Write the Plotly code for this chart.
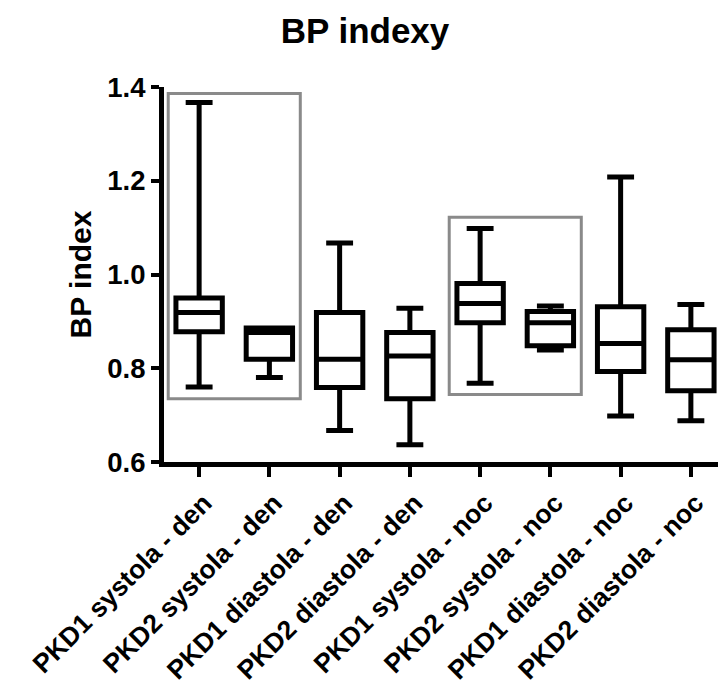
import plotly.graph_objects as go

categories = ["PKD1 systola - den", "PKD2 systola - den", "PKD1 diastola - den",
              "PKD2 diastola - den", "PKD1 systola - noc", "PKD2 systola - noc",
              "PKD1 diastola - noc", "PKD2 diastola - noc"]
minimum = [0.76, 0.78, 0.667, 0.637, 0.768, 0.839, 0.698, 0.688]
q1 = [0.878, 0.819, 0.759, 0.735, 0.897, 0.848, 0.793, 0.752]
median = [0.919, 0.876, 0.819, 0.826, 0.938, 0.897, 0.853, 0.818]
q3 = [0.950, 0.886, 0.919, 0.876, 0.981, 0.921, 0.931, 0.882]
maximum = [1.367, 0.886, 1.067, 0.928, 1.098, 0.933, 1.208, 0.936]

# highlighted groups: (first category index, last category index, y bottom, y top)
highlights = [(0, 1, 0.735, 1.386), (4, 5, 0.744, 1.122)]

y_ticks = [0.6, 0.8, 1.0, 1.2, 1.4]
y_tick_labels = ["0.6", "0.8", "1.0", "1.2", "1.4"]

FONT = "Liberation Sans, Arial, sans-serif"

# page body has an 8px default margin; figure is sized to fit the window
W, H = 718, 683

fig = go.Figure()
fig.add_trace(go.Box(
    x=categories, q1=q1, median=median, q3=q3,
    lowerfence=minimum, upperfence=maximum,
    width=0.66, whiskerwidth=0.58,
    line=dict(color="black", width=5),
    fillcolor="white", boxpoints=False, hoverinfo="skip",
))

pad = 0.44
for i0, i1, yb, yt in highlights:
    fig.add_shape(type="rect", xref="x", yref="y",
                  x0=i0 - pad, x1=i1 + pad, y0=yb, y1=yt,
                  line=dict(color="#8a8a8a", width=3), layer="below")

fig.update_layout(
    width=W, height=H,
    margin=dict(l=156, r=0, t=79, b=229, autoexpand=False),
    plot_bgcolor="white", paper_bgcolor="white",
    showlegend=False,
    title=dict(text="BP indexy", x=357 / W, xref="container", xanchor="center",
               y=1 - 23 / H, yref="container", yanchor="middle",
               font=dict(family=FONT, size=35, color="black", weight="bold")),
    font=dict(family=FONT, color="black"),
)
fig.update_xaxes(
    type="category", range=[-0.5, 7.5], automargin=False,
    showline=True, linecolor="black", linewidth=5,
    ticks="outside", ticklen=10, tickwidth=4, tickcolor="black",
    tickangle=-45, ticklabelshift=5, showgrid=False, zeroline=False,
    tickfont=dict(family=FONT, size=26.5, color="black", weight="bold"),
)
fig.update_yaxes(
    range=[0.6, 1.4], tickvals=y_ticks, ticktext=y_tick_labels, automargin=False,
    showline=True, linecolor="black", linewidth=5,
    ticks="outside", ticklen=8, tickwidth=4, tickcolor="black",
    showgrid=False, zeroline=False,
    tickfont=dict(family=FONT, size=27.5, color="black", weight="bold"),
    title=dict(text="BP index", standoff=8,
               font=dict(family=FONT, size=30, color="black", weight="bold")),
)

fig.write_html("out.html")
